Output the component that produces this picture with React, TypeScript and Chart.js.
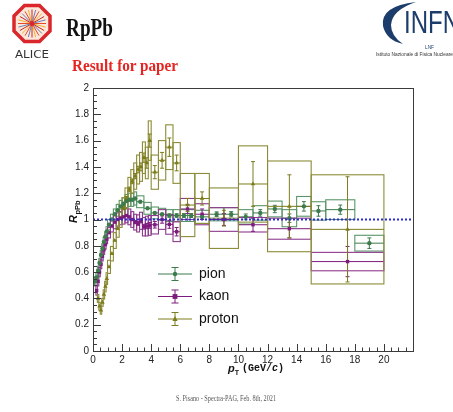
import React, { useEffect, useRef } from 'react';
import { Chart, registerables } from 'chart.js';

Chart.register(...registerables);

// ---------------- data ----------------
const pionPt = [0.15,0.25,0.35,0.45,0.55,0.65,0.75,0.85,0.95,1.1,1.3,1.5,1.7,1.9,2.1,2.3,2.5,2.7,2.9,3.25,3.75,4.25,4.75,5.25,5.75,6.25,6.75,7.5,8.5,9.5,10.5,11.5,12.5,13.5,14.5,15.5,17,19];
const pionBinW = [0.1,0.1,0.1,0.1,0.1,0.1,0.1,0.1,0.1,0.2,0.2,0.2,0.2,0.2,0.2,0.2,0.2,0.2,0.2,0.5,0.5,0.5,0.5,0.5,0.5,0.5,0.5,1,1,1,1,1,1,1,1,1,2,2];
const pionR = [0.53,0.56,0.61,0.67,0.73,0.78,0.83,0.87,0.91,0.96,1.0,1.04,1.07,1.10,1.12,1.14,1.15,1.15,1.16,1.135,1.085,1.05,1.04,1.03,1.03,1.03,1.03,1.02,1.04,1.04,1.02,1.05,1.08,1.01,1.10,1.065,1.075,0.82];
const pionStat = [0.004,0.004,0.004,0.004,0.004,0.004,0.004,0.004,0.004,0.005,0.005,0.005,0.005,0.005,0.005,0.006,0.006,0.007,0.007,0.008,0.009,0.010,0.011,0.012,0.013,0.014,0.015,0.016,0.018,0.020,0.022,0.025,0.028,0.032,0.036,0.040,0.035,0.040];
const pionSys = [0.035,0.035,0.035,0.035,0.035,0.035,0.035,0.035,0.035,0.04,0.04,0.04,0.045,0.045,0.045,0.05,0.05,0.05,0.05,0.045,0.045,0.045,0.045,0.045,0.045,0.045,0.045,0.05,0.05,0.05,0.055,0.055,0.06,0.065,0.075,0.07,0.075,0.06];

const kaonPt = [0.25,0.35,0.45,0.55,0.65,0.75,0.85,0.95,1.1,1.3,1.5,1.7,1.9,2.1,2.3,2.5,2.7,2.9,3.1,3.3,3.5,3.7,3.9,4.25,4.75,5.25,5.75,6.5,7.5,9,11,13.5,17.5];
const kaonBinW = [0.1,0.1,0.1,0.1,0.1,0.1,0.1,0.1,0.2,0.2,0.2,0.2,0.2,0.2,0.2,0.2,0.2,0.2,0.2,0.2,0.2,0.2,0.2,0.5,0.5,0.5,0.5,1,1,2,2,3,5];
const kaonR = [0.46,0.53,0.60,0.66,0.72,0.77,0.81,0.85,0.90,0.95,0.98,1.00,1.01,1.02,1.03,1.02,1.00,0.98,0.97,0.99,0.945,0.95,0.955,0.96,1.00,0.963,0.907,1.08,1.04,1.0,0.96,0.93,0.68];
const kaonStat = [0.004,0.004,0.004,0.004,0.004,0.004,0.004,0.004,0.005,0.005,0.006,0.006,0.007,0.008,0.009,0.010,0.011,0.012,0.014,0.016,0.018,0.020,0.022,0.025,0.028,0.030,0.032,0.035,0.040,0.045,0.050,0.070,0.115];
const kaonSys = [0.035,0.035,0.035,0.035,0.035,0.035,0.035,0.035,0.04,0.045,0.05,0.05,0.05,0.055,0.055,0.06,0.06,0.06,0.065,0.065,0.07,0.075,0.075,0.07,0.075,0.075,0.075,0.08,0.08,0.09,0.055,0.08,0.07];

const protonPt = [0.35,0.45,0.55,0.65,0.75,0.85,0.95,1.1,1.3,1.5,1.7,1.9,2.1,2.3,2.5,2.7,2.9,3.1,3.3,3.5,3.7,3.9,4.25,4.75,5.25,5.75,6.5,7.5,9,11,13.5,17.5];
const protonBinW = [0.1,0.1,0.1,0.1,0.1,0.1,0.1,0.2,0.2,0.2,0.2,0.2,0.2,0.2,0.2,0.2,0.2,0.2,0.2,0.2,0.2,0.2,0.5,0.5,0.5,0.5,1,1,2,2,3,5];
const protonR = [0.40,0.34,0.31,0.37,0.43,0.49,0.55,0.64,0.74,0.84,0.93,1.01,1.09,1.16,1.23,1.29,1.33,1.38,1.40,1.47,1.43,1.60,1.36,1.45,1.55,1.43,1.11,1.16,1.01,1.27,1.10,0.925];
const protonStat = [0.005,0.005,0.005,0.005,0.005,0.005,0.005,0.006,0.007,0.008,0.009,0.010,0.012,0.014,0.016,0.018,0.020,0.025,0.030,0.035,0.04,0.05,0.05,0.06,0.07,0.06,0.05,0.05,0.06,0.17,0.24,0.40];
const protonSys = [0.03,0.03,0.03,0.03,0.035,0.04,0.045,0.05,0.055,0.06,0.065,0.07,0.075,0.08,0.09,0.09,0.10,0.11,0.11,0.12,0.12,0.15,0.13,0.15,0.17,0.155,0.24,0.19,0.23,0.29,0.345,0.415];

const speciesLabels = ['pion', 'kaon', 'proton'];
const referenceY = 1;
const referenceX = [0, 22];

const xTickValues = [0, 2, 4, 6, 8, 10, 12, 14, 16, 18, 20];
const xTickLabels = ['0', '2', '4', '6', '8', '10', '12', '14', '16', '18', '20'];
const yTickValues = [0, 0.2, 0.4, 0.6, 0.8, 1, 1.2, 1.4, 1.6, 1.8, 2];
const yTickLabels = ['0', '0.2', '0.4', '0.6', '0.8', '1', '1.2', '1.4', '1.6', '1.8', '2'];

const xAxisMin = 0, xAxisMax = 22, yAxisMin = 0, yAxisMax = 2;

// ---------------- styles ----------------
const SPECIES = [
  { label: speciesLabels[0], pt: pionPt, w: pionBinW, r: pionR, stat: pionStat, sys: pionSys, color: '#3d7b4d', box: '#5a9668', marker: 'circle', size: 2.2 },
  { label: speciesLabels[1], pt: kaonPt, w: kaonBinW, r: kaonR, stat: kaonStat, sys: kaonSys, color: '#7c1b7c', box: '#8e3a8e', marker: 'rect', size: 2.4 },
  { label: speciesLabels[2], pt: protonPt, w: protonBinW, r: protonR, stat: protonStat, sys: protonSys, color: '#7c7c1c', box: '#8c8c38', marker: 'triangle', size: 2.6 },
];

const SANS = "'Liberation Sans', Arial, sans-serif";

function drawMarker(ctx: CanvasRenderingContext2D, kind: string, x: number, y: number, s: number) {
  ctx.beginPath();
  if (kind === 'circle') ctx.arc(x, y, s, 0, Math.PI * 2);
  else if (kind === 'rect') ctx.rect(x - s, y - s, 2 * s, 2 * s);
  else { ctx.moveTo(x, y - s * 1.2); ctx.lineTo(x + s, y + s * 0.8); ctx.lineTo(x - s, y + s * 0.8); ctx.closePath(); }
  ctx.fill();
}

const errorPlugin = {
  id: 'rootErrors',
  beforeDatasetsDraw(chart: any) {
    const { ctx, chartArea: a, scales } = chart;
    const xs = scales.x, ys = scales.y;
    ctx.save();
    ctx.beginPath();
    ctx.rect(a.left, a.top, a.right - a.left, a.bottom - a.top);
    ctx.clip();
    for (const s of SPECIES) {
      ctx.strokeStyle = s.box;
      ctx.lineWidth = 1.1;
      for (let i = 0; i < s.pt.length; i++) {
        const x0 = xs.getPixelForValue(s.pt[i] - s.w[i] / 2);
        const x1 = xs.getPixelForValue(s.pt[i] + s.w[i] / 2);
        const y0 = ys.getPixelForValue(s.r[i] + s.sys[i]);
        const y1 = ys.getPixelForValue(s.r[i] - s.sys[i]);
        ctx.strokeRect(x0, y0, x1 - x0, y1 - y0);
      }
      ctx.strokeStyle = s.color;
      ctx.lineWidth = 1;
      for (let i = 0; i < s.pt.length; i++) {
        const xc = xs.getPixelForValue(s.pt[i]);
        const x0 = xs.getPixelForValue(s.pt[i] - s.w[i] / 2);
        const x1 = xs.getPixelForValue(s.pt[i] + s.w[i] / 2);
        const yc = ys.getPixelForValue(s.r[i]);
        const yt = ys.getPixelForValue(s.r[i] + s.stat[i]);
        const yb = ys.getPixelForValue(s.r[i] - s.stat[i]);
        ctx.beginPath();
        ctx.moveTo(x0, yc); ctx.lineTo(x1, yc);
        ctx.moveTo(xc, yt); ctx.lineTo(xc, yb);
        if (yb - yt > 3) {
          ctx.moveTo(xc - 2, yt); ctx.lineTo(xc + 2, yt);
          ctx.moveTo(xc - 2, yb); ctx.lineTo(xc + 2, yb);
        }
        ctx.stroke();
      }
    }
    ctx.restore();
  },
  afterDraw(chart: any) {
    const { ctx, chartArea: a, scales } = chart;
    const xs = scales.x, ys = scales.y;
    ctx.save();
    // frame
    ctx.strokeStyle = '#3a3a3a';
    ctx.lineWidth = 1;
    ctx.strokeRect(Math.round(a.left) + 0.5, Math.round(a.top) + 0.5, Math.round(a.right - a.left), Math.round(a.bottom - a.top));
    // inside ticks
    ctx.beginPath();
    for (let k = 0; k <= 40; k++) {
      const y = Math.round(ys.getPixelForValue(k * 0.05)) + 0.5;
      const len = k % 4 === 0 ? 8 : 4;
      ctx.moveTo(a.left, y); ctx.lineTo(a.left + len, y);
    }
    for (let k = 0; k <= 44; k++) {
      const x = Math.round(xs.getPixelForValue(k * 0.5)) + 0.5;
      const len = k % 4 === 0 ? 7 : 3.5;
      ctx.moveTo(x, a.bottom); ctx.lineTo(x, a.bottom - len);
    }
    ctx.stroke();

    // legend
    const lx = a.left + 65, lw = 34;
    const rows = [a.top + 186, a.top + 208.5, a.top + 231];
    SPECIES.forEach((s, i) => {
      const y = rows[i];
      ctx.strokeStyle = s.color;
      ctx.fillStyle = s.color;
      ctx.lineWidth = 1;
      ctx.beginPath();
      ctx.moveTo(lx, y); ctx.lineTo(lx + lw, y);
      ctx.moveTo(lx + lw / 2, y - 6.5); ctx.lineTo(lx + lw / 2, y + 6.5);
      ctx.moveTo(lx + lw / 2 - 3.5, y - 6.5); ctx.lineTo(lx + lw / 2 + 3.5, y - 6.5);
      ctx.moveTo(lx + lw / 2 - 3.5, y + 6.5); ctx.lineTo(lx + lw / 2 + 3.5, y + 6.5);
      ctx.stroke();
      drawMarker(ctx, s.marker, lx + lw / 2, y, s.size);
      ctx.fillStyle = '#111';
      ctx.font = `14px ${SANS}`;
      ctx.textBaseline = 'middle';
      ctx.textAlign = 'left';
      ctx.fillText(s.label, lx + lw + 7, y);
    });

    // x-axis title
    ctx.fillStyle = '#111';
    ctx.textBaseline = 'alphabetic';
    ctx.textAlign = 'left';
    let tx = 228, ty = a.bottom + 21;
    ctx.font = `italic bold 11px ${SANS}`;
    ctx.fillText('p', tx, ty);
    tx += ctx.measureText('p').width;
    ctx.font = `bold 7px ${SANS}`;
    ctx.fillText('T', tx, ty + 3);
    tx += ctx.measureText('T').width + 3;
    ctx.font = `bold 10px 'Liberation Mono', monospace`;
    ctx.fillText('(GeV/', tx, ty - 1);
    tx += ctx.measureText('(GeV/').width;
    ctx.font = `italic bold 10px 'Liberation Mono', monospace`;
    ctx.fillText('c', tx, ty - 1);
    tx += ctx.measureText('c').width;
    ctx.font = `bold 10px 'Liberation Mono', monospace`;
    ctx.fillText(')', tx, ty - 1);

    // y-axis title
    ctx.save();
    ctx.translate(77, 223);
    ctx.rotate(-Math.PI / 2);
    ctx.font = `italic bold 11px ${SANS}`;
    ctx.fillText('R', 0, 0);
    const rw = ctx.measureText('R').width;
    ctx.font = `bold 7.5px ${SANS}`;
    ctx.fillText('pPb', rw + 0.5, 3);
    ctx.restore();

    ctx.restore();
  },
};

function App() {
  const ref = useRef<HTMLCanvasElement | null>(null);

  useEffect(() => {
    if (!ref.current) return;
    const datasets: any[] = SPECIES.map((s) => ({
      type: 'scatter',
      label: s.label,
      data: s.pt.map((x, i) => ({ x, y: s.r[i] })),
      pointStyle: s.marker,
      pointRadius: s.size,
      backgroundColor: s.color,
      borderColor: s.color,
      borderWidth: 0,
      order: 2,
    }));
    datasets.push({
      type: 'scatter',
      label: 'ref',
      data: referenceX.map((x) => ({ x, y: referenceY })),
      showLine: true,
      borderColor: '#2a2ad8',
      borderWidth: 2,
      borderDash: [2, 2],
      pointRadius: 0,
      order: 0,
    });

    const chart = new Chart(ref.current, {
      type: 'scatter',
      data: { datasets },
      options: {
        animation: false,
        responsive: false,
        devicePixelRatio: 1,
        events: [],
        layout: { padding: { left: 58, top: 88, right: 40, bottom: 41 } },
        plugins: { legend: { display: false }, tooltip: { enabled: false } },
        scales: {
          x: {
            type: 'linear',
            min: xAxisMin,
            max: xAxisMax,
            afterBuildTicks: (sc: any) => { sc.ticks = xTickValues.map((v) => ({ value: v })); },
            afterFit: (sc: any) => { sc.height = 20; },
            ticks: {
              autoSkip: false,
              maxRotation: 0,
              padding: 3,
              color: '#222',
              font: { family: SANS, size: 10 },
              callback: (v: any) => { const i = xTickValues.indexOf(Number(v)); return i >= 0 ? xTickLabels[i] : ''; },
            },
            grid: { display: false, drawTicks: false },
            border: { display: false },
          },
          y: {
            type: 'linear',
            min: yAxisMin,
            max: yAxisMax,
            afterBuildTicks: (sc: any) => { sc.ticks = yTickValues.map((v) => ({ value: v })); },
            afterFit: (sc: any) => { sc.width = 35; },
            ticks: {
              autoSkip: false,
              padding: 4,
              color: '#222',
              font: { family: SANS, size: 10 },
              callback: (v: any) => { const i = yTickValues.findIndex((t) => Math.abs(t - Number(v)) < 1e-6); return i >= 0 ? yTickLabels[i] : ''; },
            },
            grid: { display: false, drawTicks: false },
            border: { display: false },
          },
        },
      },
      plugins: [errorPlugin],
    } as any);
    return () => chart.destroy();
  }, []);

  const rays = [];
  for (let k = 0; k < 24; k++) {
    const ang = (k / 24) * Math.PI * 2;
    const cols = ['#e14b2a', '#f2b233', '#c42a2a', '#6b7fb3'];
    rays.push(
      <line key={k} x1={32} y1={23.5} x2={32 + Math.cos(ang) * 14} y2={23.5 + Math.sin(ang) * 14} stroke={cols[k % 4]} strokeWidth={1} />
    );
  }

  return (
    <div style={{ position: 'fixed', left: 0, top: 0, width: 453, height: 412, background: '#fff', overflow: 'hidden' }}>
      <canvas ref={ref} width={453} height={412} style={{ position: 'absolute', left: 0, top: 0, width: 453, height: 412 }} />
      <svg width={453} height={412} style={{ position: 'absolute', left: 0, top: 0, pointerEvents: 'none' }}>
        {/* ALICE logo */}
        <polygon points="24.5,5.5 39.5,5.5 50,16 50,31 39.5,41.5 24.5,41.5 14,31 14,16" fill="#fde6da" stroke="#d9272c" strokeWidth={3.5} />
        {rays}
        <circle cx={32} cy={23.5} r={2.5} fill="#d9272c" />
        <text x={15} y={58} fontFamily="'DejaVu Sans', sans-serif" fontSize={10} fill="#333" textLength={34} lengthAdjust="spacingAndGlyphs">ALICE</text>
        {/* titles */}
        <text x={66} y={36} fontFamily="'Liberation Serif', serif" fontWeight="bold" fontSize={25} fill="#111" textLength={47} lengthAdjust="spacingAndGlyphs">RpPb</text>
        <text x={72} y={71} fontFamily="'Liberation Serif', serif" fontWeight="bold" fontSize={17} fill="#e52521" textLength={106} lengthAdjust="spacingAndGlyphs">Result for paper</text>
        {/* INFN logo */}
        <path d="M416,2 Q380,6 383,26 Q386,40 403,44 Q391,36 391,25 Q392,10 416,2 Z" fill="#1c3d6b" />
        <text x={404} y={33} fontFamily="'Liberation Sans Narrow', 'Liberation Sans', sans-serif" fontSize={31} fill="#1c3d6b" textLength={56} lengthAdjust="spacingAndGlyphs">INFN</text>
        <text x={425} y={49} fontFamily="'Liberation Sans', sans-serif" fontSize={6} fill="#1c3d6b" textLength={9} lengthAdjust="spacingAndGlyphs">LNF</text>
        <text x={376} y={56} fontFamily="'Liberation Sans', sans-serif" fontSize={4.5} fill="#333" textLength={77} lengthAdjust="spacingAndGlyphs">Istituto Nazionale di Fisica Nucleare</text>
        {/* footer */}
        <text x={176} y={401} fontFamily="'Liberation Serif', serif" fontSize={7.5} fill="#555" textLength={100} lengthAdjust="spacingAndGlyphs">S. Pisano - Spectra-PAG, Feb. 8th, 2021</text>
      </svg>
    </div>
  );
}

export default App;
